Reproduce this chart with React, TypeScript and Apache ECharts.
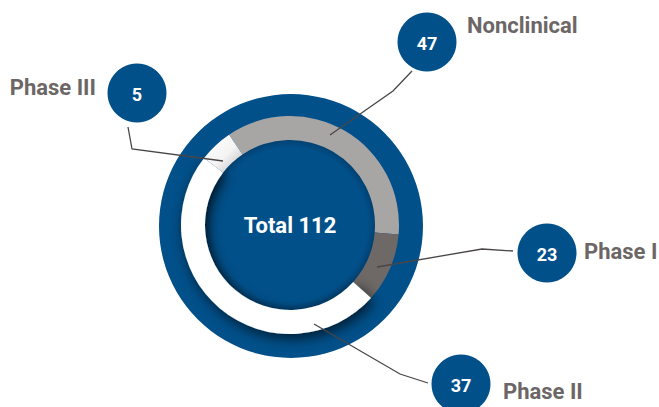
import React, { useEffect, useRef } from "react";
import * as echarts from "echarts";

// ---- data ----
const categories = ["Nonclinical", "Phase I", "Phase II", "Phase III"];
const counts = [47, 23, 37, 5];
// angular extent (degrees) of each ring segment as drawn in the original graphic
const arcShares = [129, 37, 176, 18];
const totalLabel = "Total";

// ---- styles ----
const BLUE = "#01508a";
const NAME_GRAY = "#6c6766";
const LINE_GRAY = "#4b4646";
const segmentColors: any[] = [
  "#a8a5a5",
  "#6e6967",
  "#ffffff",
  {
    type: "linear",
    x: 0,
    y: 0,
    x2: 1,
    y2: 1,
    colorStops: [
      { offset: 0, color: "#ffffff" },
      { offset: 0.55, color: "#f4f4f4" },
      { offset: 1, color: "#b9b9b9" },
    ],
  },
];

// annotation layout (bubbles, names, leader lines)
const annotationLayout = [
  { cx: 427, cy: 42, nameX: 467, nameY: 25, align: "left", line: [[330, 135], [393, 91], [412, 71]] },
  { cx: 547, cy: 253, nameX: 584, nameY: 251, align: "left", line: [[377, 267], [482, 249], [513, 251]] },
  { cx: 461, cy: 384, nameX: 503, nameY: 391, align: "left", line: [[314, 324], [400, 374], [428, 383]] },
  { cx: 137, cy: 93, nameX: 96, nameY: 87, align: "right", line: [[223, 161], [132, 149], [128, 127]] },
];

export default function App() {
  const ref = useRef<HTMLDivElement>(null);

  useEffect(() => {
    if (!ref.current) return;
    const chart = echarts.init(ref.current, null, { renderer: "svg" });
    const total = counts.reduce((a, b) => a + b, 0);

    const graphics: any[] = [];
    annotationLayout.forEach((a) => {
      graphics.push({
        type: "polyline",
        z: 100,
        silent: true,
        shape: { points: a.line },
        style: { stroke: LINE_GRAY, lineWidth: 1.3, fill: null },
      });
    });
    annotationLayout.forEach((a, i) => {
      graphics.push({
        type: "circle",
        z: 101,
        silent: true,
        shape: { cx: a.cx, cy: a.cy, r: 29.5 },
        style: { fill: BLUE },
      });
      graphics.push({
        type: "text",
        z: 102,
        silent: true,
        x: a.cx,
        y: a.cy + 1,
        style: {
          text: String(counts[i]),
          fill: "#ffffff",
          font: "bold 18px Roboto",
          align: "center",
          verticalAlign: "middle",
        },
      });
      graphics.push({
        type: "text",
        z: 102,
        silent: true,
        x: a.nameX,
        y: a.nameY,
        style: {
          text: categories[i],
          fill: NAME_GRAY,
          font: "bold 22px Roboto",
          align: a.align,
          verticalAlign: "middle",
        },
      });
    });

    chart.setOption({
      animation: false,
      backgroundColor: "#ffffff",
      graphic: graphics,
      series: [
        {
          type: "pie",
          silent: true,
          z: 1,
          center: [291, 226],
          radius: [0, 132],
          label: { show: false },
          labelLine: { show: false },
          itemStyle: { color: BLUE },
          data: [{ name: "outer", value: 1 }],
        },
        {
          type: "pie",
          silent: true,
          z: 2,
          center: [290, 225],
          radius: [0, 86],
          labelLine: { show: false },
          label: {
            show: true,
            position: "center",
            formatter: () => `${totalLabel} ${total}`,
            color: "#ffffff",
            fontFamily: "Roboto",
            fontWeight: "bold",
            fontSize: 22,
          },
          itemStyle: {
            color: {
              type: "radial",
              x: 0.5,
              y: 0.5,
              r: 0.5,
              colorStops: [
                { offset: 0, color: BLUE },
                { offset: 0.9, color: BLUE },
                { offset: 1, color: "#013f6e" },
              ],
            },
          },
          data: [{ name: "total", value: total }],
        },
        {
          type: "pie",
          silent: true,
          z: 3,
          center: [290, 225],
          radius: [85, 109],
          startAngle: 124,
          clockwise: true,
          avoidLabelOverlap: false,
          label: { show: false },
          labelLine: { show: false },
          data: categories.map((c, i) => ({
            name: c,
            value: arcShares[i],
            itemStyle:
              i === 2
                ? {
                    color: segmentColors[i],
                    shadowBlur: 14,
                    shadowColor: "rgba(0,0,0,0.7)",
                    shadowOffsetX: 3,
                    shadowOffsetY: 4,
                  }
                : { color: segmentColors[i] },
          })),
        },
      ],
    });

    return () => chart.dispose();
  }, []);

  return (
    <div
      ref={ref}
      style={{ position: "fixed", left: 0, top: 0, width: 659, height: 407, background: "#fff" }}
    />
  );
}
